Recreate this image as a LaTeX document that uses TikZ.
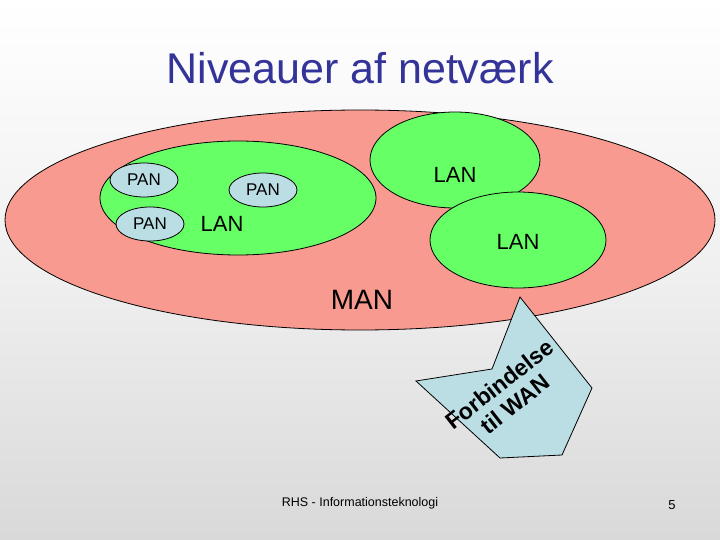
\documentclass[tikz,border=0pt]{standalone}
\usepackage{fontspec}
\setmainfont{Liberation Sans}
\usetikzlibrary{shapes.geometric}
\definecolor{man}{RGB}{248,154,144}
\definecolor{lan}{RGB}{102,255,102}
\definecolor{pan}{RGB}{186,222,228}
\definecolor{ttl}{RGB}{51,51,153}
\begin{document}
\begin{tikzpicture}[x=1pt,y=-1pt,
  ell/.style={draw=black,line width=0.8pt},
  lbl/.style={inner sep=0pt,font=\fontsize{22}{24}\selectfont},
  plbl/.style={inner sep=0pt,font=\fontsize{17}{18}\selectfont}]
\shade[top color=white,bottom color=black!15,middle color=black!6] (0,0) rectangle (720,540);
\useasboundingbox (0,0) rectangle (720,540);
\node (title) at (360,68) {\fontsize{43}{46}\selectfont\color{ttl}Niveauer af netværk};
\path[ell,fill=man] (360,220) ellipse[x radius=355,y radius=110];
\path[ell,fill=lan] (238,198) ellipse[x radius=138,y radius=57];
\path[ell,fill=lan] (455,160) ellipse[x radius=85,y radius=48];
\path[ell,fill=lan] (518,240) ellipse[x radius=88,y radius=48];
\path[ell,fill=pan] (144,180) ellipse[x radius=34,y radius=17];
\path[ell,fill=pan] (263,190) ellipse[x radius=34,y radius=17];
\path[ell,fill=pan] (150,224) ellipse[x radius=34,y radius=17];
\node[plbl] (p1) at (144,180) {PAN};
\node[plbl] (p2) at (263,190) {PAN};
\node[plbl] (p3) at (150,224) {PAN};
\node[lbl] (l1) at (222,224) {LAN};
\node[lbl] (l2) at (455,175) {LAN};
\node[lbl] (l3) at (518,242) {LAN};
\node[inner sep=0pt,font=\fontsize{28}{30}\selectfont] (man) at (362,300) {MAN};
\path[ell,fill=pan] (520,297) -- (592,388) -- (562,455) -- (500,458) -- (416,381) -- (492,369) -- cycle;
\node[rotate=38,align=center,font=\bfseries\fontsize{23}{25}\selectfont,inner sep=0pt] (wan) at (507,394) {Forbindelse\\til WAN};
\node[font=\fontsize{12.5}{14}\selectfont] (foot) at (360,503) {RHS - Informationsteknologi};
\node[font=\fontsize{13}{14}\selectfont] (pg) at (672,505) {5};
\end{tikzpicture}
\end{document}
